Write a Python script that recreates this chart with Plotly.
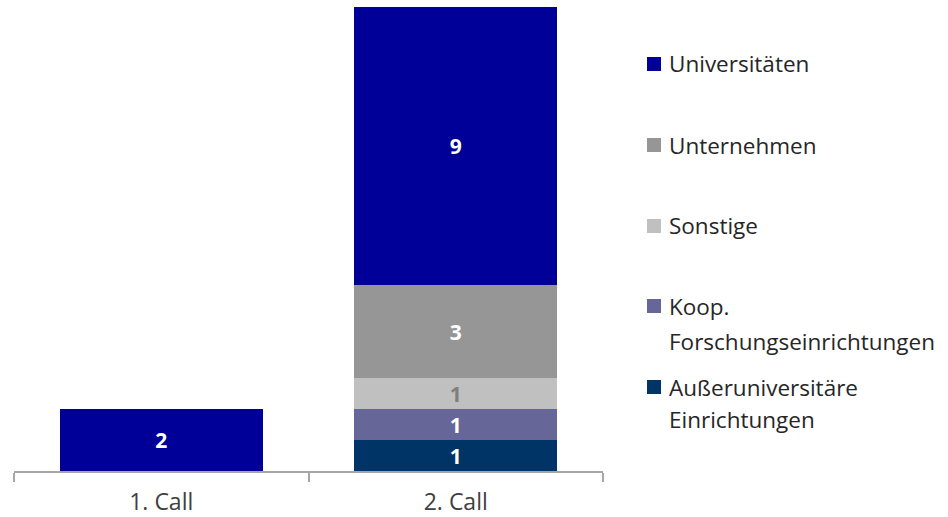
import plotly.graph_objects as go

# Funded participants per call, stacked by type of institution
calls = ["1. Call", "2. Call"]
series_names = [
    "Außeruniversitäre<br>Einrichtungen",
    "Koop.<br>Forschungseinrichtungen",
    "Sonstige",
    "Unternehmen",
    "Universitäten",
]
aussernuniv = [None, 1]
koop = [None, 1]
sonstige = [None, 1]
unternehmen = [None, 3]
universitaeten = [2, 9]

series_values = [aussernuniv, koop, sonstige, unternehmen, universitaeten]
series_colors = ["#003366", "#666699", "#C0C0C0", "#969696", "#000099"]
label_colors = ["#FFFFFF", "#FFFFFF", "#7F7F7F", "#FFFFFF", "#FFFFFF"]

FONT = "'Open Sans', 'Noto Sans', sans-serif"
W, H = 948, 517
ML, MR, MT, MB = 14, 345, 7, 46

fig = go.Figure()
for name, vals, col, lcol in zip(series_names, series_values, series_colors, label_colors):
    fig.add_trace(go.Bar(
        x=calls, y=vals, name=name,
        marker=dict(color=col, line=dict(width=0)),
        text=[("" if v is None else str(v)) for v in vals],
        textposition="inside", insidetextanchor="middle",
        textangle=0, constraintext="none",
        textfont=dict(family=FONT, size=21, color=lcol, weight="bold"),
        showlegend=False,
    ))

# Hand-placed legend (square + text), top to bottom
plot_w = W - ML - MR
plot_h = H - MT - MB


def px_x(px):
    return (px - ML) / plot_w


def px_y(py):
    return (H - MB - py) / plot_h


legend_rows = [
    ("Universitäten", "#000099", [64]),
    ("Unternehmen", "#969696", [145]),
    ("Sonstige", "#C0C0C0", [226]),
    (["Koop.", "Forschungseinrichtungen"], "#666699", [306, 341]),
    (["Außeruniversitäre", "Einrichtungen"], "#003366", [387, 419]),
]
shapes = []
annotations = []
for label, col, ys in legend_rows:
    lines = label if isinstance(label, list) else [label]
    y0 = ys[0]
    shapes.append(dict(
        type="rect", xref="paper", yref="paper",
        x0=px_x(647), x1=px_x(661), y0=px_y(y0 + 7), y1=px_y(y0 - 7),
        fillcolor=col, line=dict(width=0),
    ))
    for txt, yy in zip(lines, ys):
        annotations.append(dict(
            text=txt, xref="paper", yref="paper",
            x=px_x(667), y=px_y(yy), xanchor="left", yanchor="middle",
            showarrow=False,
            font=dict(family=FONT, size=22.5, color="#262626"),
        ))

fig.update_layout(
    barmode="stack",
    bargap=0.31,
    width=W, height=H,
    margin=dict(l=ML, r=MR, t=MT, b=MB, pad=0, autoexpand=False),
    paper_bgcolor="white", plot_bgcolor="white",
    shapes=shapes, annotations=annotations,
    xaxis=dict(
        automargin=False,
        showline=True, linecolor="#A6A6A6", linewidth=1.5,
        ticks="outside", tickson="boundaries", ticklen=9, tickcolor="#A6A6A6", tickwidth=1.5,
        tickfont=dict(family=FONT, size=23, color="#404040"),
        ticklabelstandoff=10,
        showgrid=False,
    ),
    yaxis=dict(range=[0, 15], visible=False, showgrid=False, automargin=False),
)

fig.write_html("out.html")
